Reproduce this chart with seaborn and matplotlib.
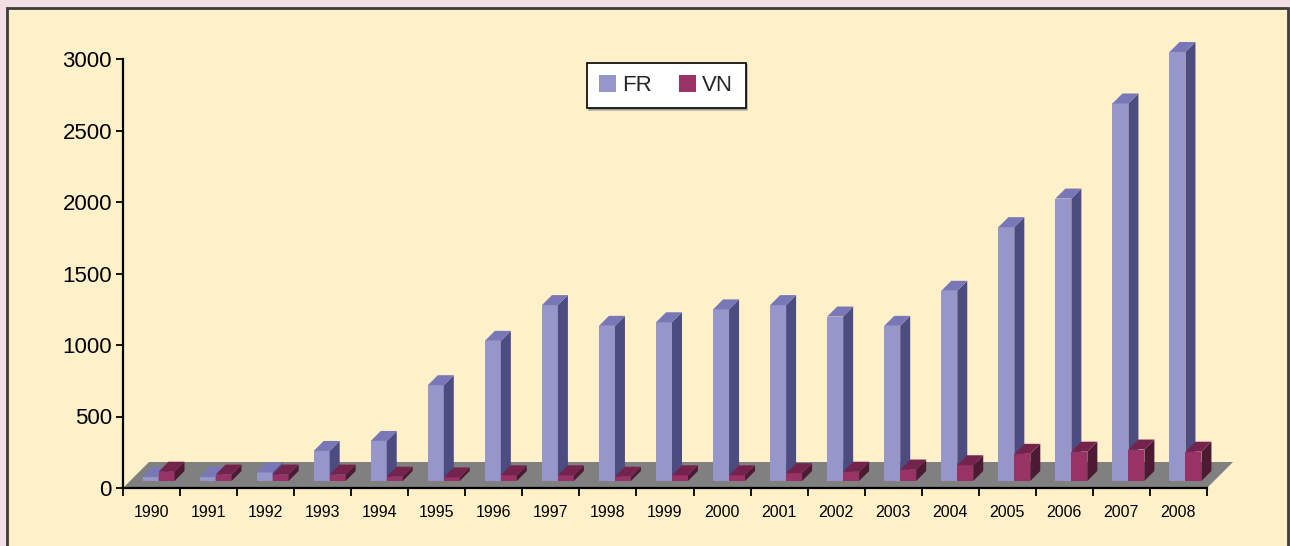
import numpy as np
import pandas as pd
import matplotlib
matplotlib.use("Agg")
import matplotlib.pyplot as plt
from matplotlib.patches import Polygon, Rectangle
import seaborn as sns

# data
years = [str(y) for y in range(1990, 2009)]
fr = [30, 30, 60, 210, 280, 670, 980, 1230, 1085, 1110, 1200, 1230, 1150,
      1085, 1330, 1775, 1975, 2640, 3000]
vn = [65, 45, 45, 45, 30, 25, 40, 40, 30, 40, 40, 55, 65, 80, 110, 190,
      205, 220, 205]
series = ["FR", "VN"]
yticks = [0, 500, 1000, 1500, 2000, 2500, 3000]

# front / side / top shades of each series
front = {"FR": "#9696ca", "VN": "#993366"}
side = {"FR": "#4c4c80", "VN": "#4d1a33"}
top = {"FR": "#7878b9", "VN": "#74244c"}

df = pd.DataFrame({
    "year": years * 2,
    "value": fr + vn,
    "country": ["FR"] * len(years) + ["VN"] * len(years),
})

sns.set_style("white")
plt.rcParams["font.family"] = ["Liberation Sans", "DejaVu Sans"]

W, H, DPI = 1290, 546, 100
fig = plt.figure(figsize=(W / DPI, H / DPI), dpi=DPI, facecolor="#f2dee5")
fig.patches.append(Rectangle((7 / W, -0.1), (1288 - 7) / W, 1 - 8 / H + 0.1,
                             transform=fig.transFigure, facecolor="#fef0c9",
                             edgecolor="#3c3c3c", lw=2, zorder=-5))

ax = fig.add_axes([123 / W, (H - 488) / H, (1207 - 123) / W, (488 - 59) / H])
ax.set_facecolor("none")

sns.barplot(data=df, x="year", y="value", hue="country", hue_order=series,
            palette=front, width=0.56, gap=0, saturation=1, ax=ax,
            linewidth=0, legend=True)

ax.set_xlim(-0.5, len(years) - 0.5)
ax.set_ylim(0, 3000)


def px_to_data(dx, dy):
    x0, y0 = ax.transData.transform((0, 0))
    return ax.transData.inverted().transform((x0 + dx, y0 + dy))


# floor of the 3d box
fdx, fdy = px_to_data(26, 26)
ax.add_patch(Polygon([(-0.5, 0), (len(years) - 0.5, 0),
                      (len(years) - 0.5 + fdx, fdy), (-0.5 + fdx, fdy)],
                     closed=True, facecolor="#808080", edgecolor="none",
                     zorder=2, clip_on=False))

# bars sit a bit back on the floor, then get a side and a top face
sbx, sby = px_to_data(7, 7)
ddx, ddy = px_to_data(10, 10)
for k, (name, cont) in enumerate(zip(series, ax.containers)):
    for i, p in enumerate(cont.patches):
        z = 10 + 4 * i + 2 * k
        p.set_x(p.get_x() + sbx)
        p.set_y(sby)
        p.set_zorder(z)
        p.set_clip_on(False)
        x0 = p.get_x()
        x1 = x0 + p.get_width()
        y0 = p.get_y()
        y1 = y0 + p.get_height()
        ax.add_patch(Polygon([(x1, y0), (x1 + ddx, y0 + ddy),
                              (x1 + ddx, y1 + ddy), (x1, y1)],
                             closed=True, facecolor=side[name],
                             edgecolor="none", zorder=z, clip_on=False))
        ax.add_patch(Polygon([(x0, y1), (x1, y1), (x1 + ddx, y1 + ddy),
                              (x0 + ddx, y1 + ddy)],
                             closed=True, facecolor=top[name],
                             edgecolor="none", zorder=z, clip_on=False))

# axes styling
for s in ["top", "right"]:
    ax.spines[s].set_visible(False)
for s in ["left", "bottom"]:
    ax.spines[s].set_color("black")
    ax.spines[s].set_linewidth(1.6)
    ax.spines[s].set_zorder(200)

ax.set_yticks(yticks)
ax.set_yticklabels([str(v) for v in yticks])
ax.tick_params(axis="y", direction="out", length=5, width=1.3, pad=3,
               labelsize=16, colors="black", left=True)
ax.set_xticks(range(len(years)))
ax.set_xticklabels(years)
ax.set_xticks(np.arange(-0.5, len(years), 1), minor=True)
ax.tick_params(axis="x", which="major", length=0, pad=12, labelsize=11.5,
               colors="black")
ax.tick_params(axis="x", which="minor", direction="out", length=6, width=1.3,
               colors="black", bottom=True)
ax.set_xlabel("")
ax.set_ylabel("")

handles, labels = ax.get_legend_handles_labels()
ax.legend(handles, labels, ncol=2, loc="upper left",
          bbox_to_anchor=(587 / W, 1 - 63 / H), bbox_transform=fig.transFigure,
          fontsize=16, frameon=True, fancybox=False, edgecolor="black",
          facecolor="white", framealpha=1, handlelength=0.75,
          handleheight=0.75, handletextpad=0.3, columnspacing=1.2,
          borderpad=0.55, borderaxespad=0,
          shadow={"ox": 1.2, "oy": -1.2, "color": "0.55", "alpha": 0.6})
ax.get_legend().get_frame().set_linewidth(1.2)

fig.savefig("out.png", dpi=DPI, facecolor=fig.get_facecolor())
